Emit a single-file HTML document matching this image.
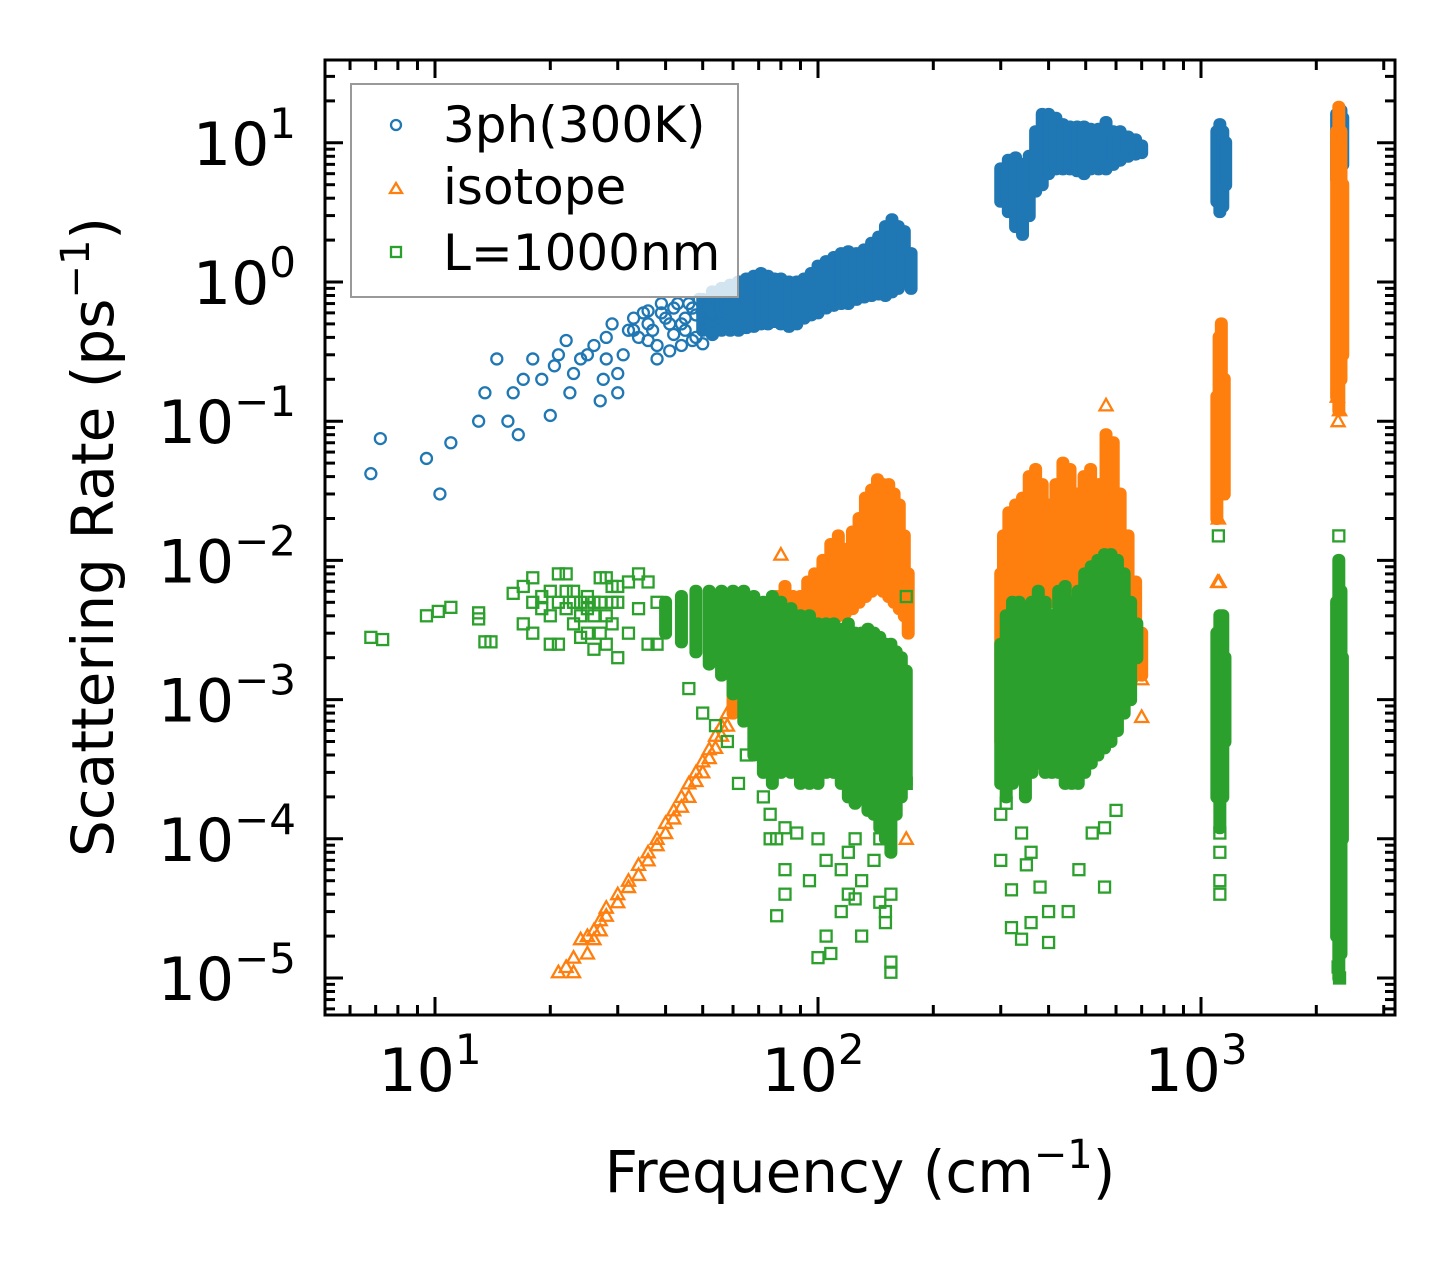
<!DOCTYPE html>
<html><head><meta charset="utf-8">
<style>
html,body{margin:0;padding:0;background:#fff;}
svg{display:block;font-family:"DejaVu Sans","Liberation Sans",sans-serif;}
</style></head>
<body>
<svg id="chart" width="1455" height="1265" viewBox="0 0 1455 1265" xmlns="http://www.w3.org/2000/svg">
<rect x="0" y="0" width="1455" height="1265" fill="#fff"/>
<g id="marks"></g>
<g id="axes"></g>
<g id="legend">
  <rect x="351" y="84" width="387" height="213" fill="#fff" fill-opacity="0.8" stroke="#999" stroke-width="2"/>
  <circle cx="396" cy="125" r="5" fill="none" stroke="#1f77b4" stroke-width="2.3"/>
  <text x="443" y="142" font-size="50" fill="#000">3ph(300K)</text>
  <polygon points="396,183 402,193 390,193" fill="none" stroke="#ff7f0e" stroke-width="2.3"/>
  <text x="443" y="204" font-size="50" fill="#000">isotope</text>
  <rect x="391" y="247" width="10" height="10" fill="none" stroke="#2ca02c" stroke-width="2.3"/>
  <text x="443" y="270" font-size="50" fill="#000">L=1000nm</text>
</g>
<text x="860" y="1192" font-size="58" text-anchor="middle">Frequency (cm<tspan font-size="40" dy="-24">−1</tspan><tspan dy="24">)</tspan></text>
<text transform="translate(113,537) rotate(-90)" font-size="58" text-anchor="middle">Scattering Rate (ps<tspan font-size="40" dy="-24">−1</tspan><tspan dy="24">)</tspan></text>
</svg>
<script>
// ---- data (frequency cm^-1, rate ps^-1) ----
const blueX = [6.8,7.2,9.5,10.3,11,13,13.5,14.5,15.5,16,16.5,17,18,19,20,20.5,21,22,22.5,23,24,25,26,27,27.5,28,29,30,31,32,33,34,35,36,38,40,42,44,46,48,50,33,36,30,28,37,39,41,43,45,47,49,52,54,56,58,38,41,44,47,50,53,36,39,42,45,48,51,55,57];
const blueY = [0.042,0.075,0.054,0.03,0.07,0.1,0.16,0.28,0.1,0.16,0.08,0.2,0.28,0.2,0.11,0.25,0.3,0.38,0.16,0.22,0.28,0.3,0.35,0.14,0.2,0.4,0.5,0.22,0.3,0.45,0.55,0.4,0.6,0.5,0.35,0.55,0.65,0.5,0.7,0.4,0.6,0.45,0.38,0.16,0.28,0.45,0.6,0.5,0.7,0.55,0.65,0.75,0.5,0.7,0.6,0.8,0.28,0.32,0.35,0.38,0.36,0.42,0.62,0.7,0.42,0.45,0.58,0.48,0.55,0.85];
const blueBandF  = [50,53,56,59,62,65,68,71,74,77,80,84,88,92,96,100,105,110,115,120,126,132,138,144,150,156,162,168,175,300,314,328,342,356,370,385,400,418,436,455,475,495,515,540,565,590,615,645,675,700,1100,1120,1140,1160,2260,2290,2320,2345];
const blueBandLo = [.45,.42,.45,.45,.45,.47,.48,.5,.5,.52,.5,.48,.5,.55,.58,.6,.65,.68,.7,.7,.75,.78,.8,.82,.8,.85,.9,1.0,.9,3.8,3.2,2.5,2.2,3,4.5,5,6,6.5,6.5,6.5,6.3,6,6.5,6.5,6.5,7,7.5,8,8.3,8.5,3.8,3.2,3.5,5,5.5,5,6,7];
const blueBandHi = [.75,.85,.9,.95,1.0,1.05,1.1,1.15,1.1,1.05,1.05,1.0,1.0,1.05,1.15,1.3,1.4,1.5,1.6,1.65,1.6,1.7,1.9,2.1,2.5,2.8,2.5,2.3,1.6,6.5,7.5,7.8,7,8,12,16,16,15,13.5,13,13,13,12.5,12.5,14,12,12,11,10.5,9.5,12,13.5,12,10,16,14,17,15];

const orangeX = [21,22,23,23,24,25,25,26,26,27,27,28,28,30,30,32,32,34,34,36,36,38,38,40,40,42,42,44,44,46,46,48,48,50,50,52,52,54,54,56,56,58,58,80,565,700,700,170,1105,1110,1120,1115,2280,2300,2270];
const orangeY = [1.1e-5,1.2e-5,1.1e-5,1.4e-5,1.9e-5,1.5e-5,2e-5,1.9e-5,2.2e-5,2.2e-5,2.6e-5,2.8e-5,3.2e-5,3.5e-5,4e-5,4.5e-5,5e-5,5.5e-5,6.5e-5,7e-5,8e-5,9e-5,1e-4,1.1e-4,1.3e-4,1.4e-4,1.6e-4,1.7e-4,2e-4,2e-4,2.5e-4,2.6e-4,3e-4,3e-4,3.6e-4,3.8e-4,4.4e-4,4.5e-4,5.5e-4,5.5e-4,6.5e-4,6.5e-4,8e-4,1.1e-2,0.13,7.5e-4,1.4e-3,1e-4,7e-3,2e-2,3e-2,7e-3,0.1,0.12,0.15];
const orangeBandF  = [60,63,66,69,72,75,78,82,86,90,94,98,103,108,113,118,123,128,133,138,143,148,153,158,163,168,172,300,305,315,328,342,356,370,385,400,418,436,455,475,495,515,540,565,590,615,645,675,700,1100,1115,1130,1150,2260,2290,2320,2345];
const orangeBandLo = [8e-4,1e-3,1.2e-3,1.4e-3,1.6e-3,1.8e-3,2e-3,2.2e-3,2.5e-3,2.5e-3,2.8e-3,3e-3,3.2e-3,3.5e-3,4e-3,4.2e-3,4.5e-3,5e-3,5.5e-3,6e-3,6.5e-3,6e-3,5.5e-3,5e-3,4.5e-3,4e-3,3e-3,5e-4,1.5e-3,2.5e-3,3e-3,4e-3,5e-3,6e-3,6e-3,5e-3,5e-3,6e-3,6e-3,5.5e-3,6e-3,7e-3,7e-3,8e-3,8e-3,6e-3,4e-3,3e-3,1.5e-3,2e-2,3e-2,4e-2,3e-2,0.15,0.12,0.2,0.3];
const orangeBandHi = [1.5e-3,2e-3,3e-3,3.5e-3,4e-3,5e-3,5.5e-3,6.5e-3,5.5e-3,5.5e-3,7e-3,8e-3,1e-2,1.3e-2,1.5e-2,1.2e-2,1.6e-2,2e-2,2.8e-2,3.2e-2,3.8e-2,3.5e-2,3.5e-2,3e-2,2.5e-2,1.5e-2,8e-3,8e-3,1.5e-2,2.2e-2,2.5e-2,2.8e-2,4e-2,4.5e-2,3.5e-2,2.5e-2,3.5e-2,5e-2,4.5e-2,3e-2,4e-2,4.5e-2,3.5e-2,8e-2,7e-2,3e-2,1.5e-2,7e-3,3e-3,0.15,0.4,0.5,0.2,12,18,12,5];

const greenX = [6.8,7.3,9.5,10.2,11,13,13,13.5,14,16,17,17,18,18,18,19,19,20,20,20,21,21,21,22,22,22,23,23,23,24,24,24,25,25,25,26,26,26,27,27,27,28,28,28,29,29,29,30,30,30,32,32,34,34,36,36,38,38,62,65,72,75,75,78,78,82,82,82,88,95,100,100,105,105,108,115,115,120,120,125,125,130,130,140,145,145,150,150,155,155,155,170,300,300,310,320,320,340,340,350,360,360,380,400,400,450,480,520,560,560,600,1120,1120,1120,1120,1110,2290,2300,2280,2300,170,46,50,54,58];
const greenY = [2.8e-3,2.7e-3,4e-3,4.3e-3,4.6e-3,3.8e-3,4.2e-3,2.6e-3,2.6e-3,5.8e-3,6.5e-3,3.5e-3,5e-3,7.5e-3,3e-3,4.5e-3,5.5e-3,2.5e-3,4e-3,6e-3,5e-3,8e-3,2.5e-3,4.5e-3,6e-3,8e-3,3.5e-3,5e-3,6e-3,2.8e-3,4e-3,5e-3,3e-3,4.5e-3,5.5e-3,2.3e-3,4e-3,5e-3,3e-3,5e-3,7.5e-3,2.5e-3,4e-3,7.5e-3,3.5e-3,5e-3,6.5e-3,2e-3,5e-3,6.5e-3,3e-3,7e-3,4.5e-3,8e-3,2.5e-3,7e-3,2.5e-3,5e-3,2.5e-4,4e-4,2e-4,1.5e-4,1e-4,2.8e-5,1e-4,1.2e-4,6e-5,4e-5,1.1e-4,5e-5,1.4e-5,1e-4,7e-5,2e-5,1.5e-5,3e-5,6e-5,8e-5,4e-5,3.7e-5,1e-4,5e-5,2e-5,7e-5,1e-4,3.5e-5,3e-5,2.5e-5,1.3e-5,1.1e-5,4e-5,5.5e-3,7e-5,1.5e-4,1.8e-4,4.3e-5,2.3e-5,1.1e-4,1.9e-5,6.5e-5,2.5e-5,8e-5,4.5e-5,1.8e-5,3e-5,3e-5,6e-5,1.1e-4,4.5e-5,1.2e-4,1.6e-4,5e-5,4e-5,8e-5,1.1e-4,1.5e-2,1.5e-2,1e-5,1.2e-5,1.8e-5,2.5e-4,1.2e-3,8e-4,6.5e-4,5e-4];
const greenBandF  = [40,44,48,52,56,60,64,68,72,76,80,85,90,95,100,105,110,115,120,125,130,135,140,145,150,155,160,165,170,300,310,322,335,348,362,376,392,408,425,442,460,478,497,517,538,560,582,605,630,655,680,1100,1120,1140,1155,2260,2290,2320,2340];
const greenBandLo = [3e-3,2.6e-3,2.2e-3,1.8e-3,1.5e-3,1.1e-3,7e-4,4e-4,3e-4,2.5e-4,3e-4,3e-4,2.5e-4,2.5e-4,2.5e-4,3e-4,3e-4,2.5e-4,2e-4,1.8e-4,2e-4,1.6e-4,1.5e-4,1.2e-4,1e-4,8e-5,1.5e-4,2e-4,2.5e-4,2.5e-4,2e-4,2.5e-4,3e-4,2e-4,3e-4,3.5e-4,3e-4,3e-4,3e-4,2.5e-4,2.5e-4,2.5e-4,3e-4,3.5e-4,4e-4,4.5e-4,5e-4,6e-4,8e-4,1e-3,2e-3,2e-4,1.2e-4,2e-4,5e-4,2e-5,1e-5,1.5e-5,1e-4];
const greenBandHi = [5e-3,5.5e-3,6e-3,6e-3,6e-3,6e-3,6e-3,5.5e-3,5e-3,5.5e-3,5e-3,4.5e-3,4e-3,4e-3,3.5e-3,3.5e-3,3.5e-3,3.2e-3,3.5e-3,3e-3,3e-3,3.2e-3,3e-3,2.8e-3,2.5e-3,2.5e-3,2.2e-3,2e-3,1.6e-3,2.5e-3,4e-3,5e-3,5e-3,4.5e-3,5e-3,6e-3,5e-3,4e-3,6e-3,6.5e-3,5e-3,6e-3,8e-3,9e-3,1e-2,1.1e-2,1.1e-2,1e-2,8e-3,5e-3,3.5e-3,3e-3,4e-3,4e-3,2e-3,5e-3,1e-2,6e-3,2e-3];

const xTickVals = [10,100,1000];
const xTickExp = ["1","2","3"];
const yTickVals = [10,1,0.1,0.01,0.001,0.0001,0.00001];
const yTickExp = ["1","0","−1","−2","−3","−4","−5"];

// ---- scales ----
const L=325,R=1395,T=60,B=1015;
const X0=435, XD=383;
const Y0=282, YD=139.2;
function sx(v){return X0+(Math.log10(v)-1)*XD;}
function sy(v){return Y0-Math.log10(v)*YD;}
const NS="http://www.w3.org/2000/svg";
const marks=document.getElementById('marks');
const axes=document.getElementById('axes');
function mk(tag,attrs,parent){const e=document.createElementNS(NS,tag);for(const k in attrs)e.setAttribute(k,attrs[k]);parent.appendChild(e);return e;}

const clip=mk('clipPath',{id:'pc'},marks);
mk('rect',{x:L,y:T,width:R-L,height:B-T},clip);
const plot=mk('g',{'clip-path':'url(#pc)'},marks);



function drawBand(F,Lo,Hi,color,name){
  for(let i=0;i<F.length;i++){
    const x=sx(F[i]),y1=sy(Hi[i])-6.5,y2=sy(Lo[i])+6.5;
    const r=mk('rect',{x:x-6.5,y:y1,width:13,height:Math.max(0,y2-y1),fill:color,rx:6},plot);
    
    
  }
}
function circle(x,y,c){const e=mk('circle',{cx:x,cy:y,r:5.5,fill:'none',stroke:c,'stroke-width':2.3},plot);
  
  }
function tri(x,y,c){const e=mk('polygon',{points:`${x},${y-6.5} ${x+6.5},${y+5} ${x-6.5},${y+5}`,fill:'none',stroke:c,'stroke-width':2.3},plot);
  
  }
function sq(x,y,c){const e=mk('rect',{x:x-5.5,y:y-5.5,width:11,height:11,fill:'none',stroke:c,'stroke-width':2.3},plot);
  
  }

const CB='#1f77b4',CO='#ff7f0e',CG='#2ca02c';
drawBand(blueBandF,blueBandLo,blueBandHi,CB,'3ph');
blueX.forEach((f,i)=>circle(sx(f),sy(blueY[i]),CB));
drawBand(orangeBandF,orangeBandLo,orangeBandHi,CO,'isotope');
orangeX.forEach((f,i)=>tri(sx(f),sy(orangeY[i]),CO));
drawBand(greenBandF,greenBandLo,greenBandHi,CG,'l1000nm');
greenX.forEach((f,i)=>sq(sx(f),sy(greenY[i]),CG));

// ---- axes ----
const frame=mk('rect',{x:L,y:T,width:R-L,height:B-T,fill:'none',stroke:'#000','stroke-width':3},axes);


function tick(x1,y1,x2,y2,name){const t=mk('line',{x1,y1,x2,y2,stroke:'#000','stroke-width':3},axes);
  
  }
for(let d=0;d<=3;d++){for(let m=1;m<=9;m++){const v=Math.pow(10,d)*m;const x=sx(v);if(x<L||x>R)continue;
  const len=m===1?18:10;tick(x,B,x,B-len,'x-tick');tick(x,T,x,T+len,'x-tick-top');}}
for(let d=-6;d<=1;d++){for(let m=1;m<=9;m++){const v=Math.pow(10,d)*m;const y=sy(v);if(y<T||y>B)continue;
  const len=m===1?18:10;tick(L,y,L+len,y,'y-tick');tick(R,y,R-len,y,'y-tick-right');}}
xTickVals.forEach((v,i)=>{
  const t=mk('text',{x:sx(v)-5,y:1091,'font-size':60,'text-anchor':'middle'},axes);
  
  
  t.innerHTML='10<tspan font-size="42" dy="-27">'+xTickExp[i]+'</tspan>';
});
yTickVals.forEach((v,i)=>{
  const t=mk('text',{x:296,y:sy(v)+22,'font-size':60,'text-anchor':'end'},axes);
  
  
  t.innerHTML='10<tspan font-size="42" dy="-27">'+yTickExp[i]+'</tspan>';
});
</script>
</body></html>
